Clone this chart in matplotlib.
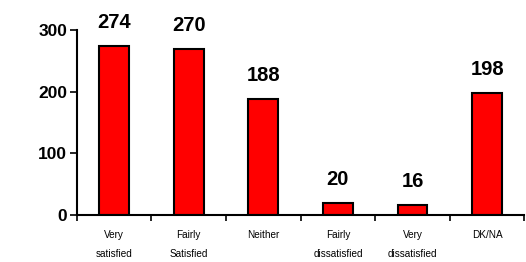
import numpy as np
import matplotlib.pyplot as plt

plt.rcParams['font.family'] = ['Liberation Sans', 'DejaVu Sans']

categories = ["Very\nsatisfied", "Fairly\nSatisfied", "Neither",
              "Fairly\ndissatisfied", "Very\ndissatisfied", "DK/NA"]
counts = [274, 270, 188, 20, 16, 198]
y_ticks = [0, 100, 200, 300]

fig = plt.figure(figsize=(5.26, 2.62), dpi=100)
ax = fig.add_axes([0.146, 0.179, 0.851, 0.706])

x = np.arange(len(categories))
bars = ax.bar(x, counts, width=0.4, color='#ff0000', edgecolor='black', linewidth=1.5)

for xi, v in zip(x, counts):
    ax.annotate(str(v), (xi, v), xytext=(0, 10), textcoords='offset points',
                ha='center', va='bottom', fontsize=14.5, fontweight='bold')

ax.set_xlim(-0.5, len(categories) - 0.5)
ax.set_ylim(0, 300)
ax.set_yticks(y_ticks)
ax.set_yticklabels([str(t) for t in y_ticks], fontsize=12.5, fontweight='bold')

ax.set_xticks(x)
ax.set_xticklabels(categories, fontsize=7.2, linespacing=2.1)
ax.set_xticks(np.arange(-0.5, len(categories)), minor=True)
ax.tick_params(axis='x', which='major', length=0, pad=11)
ax.tick_params(axis='x', which='minor', length=4, width=1.2, direction='out')
ax.tick_params(axis='y', length=5, width=1.2, direction='out', pad=2)

for s in ['top', 'right']:
    ax.spines[s].set_visible(False)
for s in ['left', 'bottom']:
    ax.spines[s].set_linewidth(1.5)

fig.savefig("out.png", dpi=100)
